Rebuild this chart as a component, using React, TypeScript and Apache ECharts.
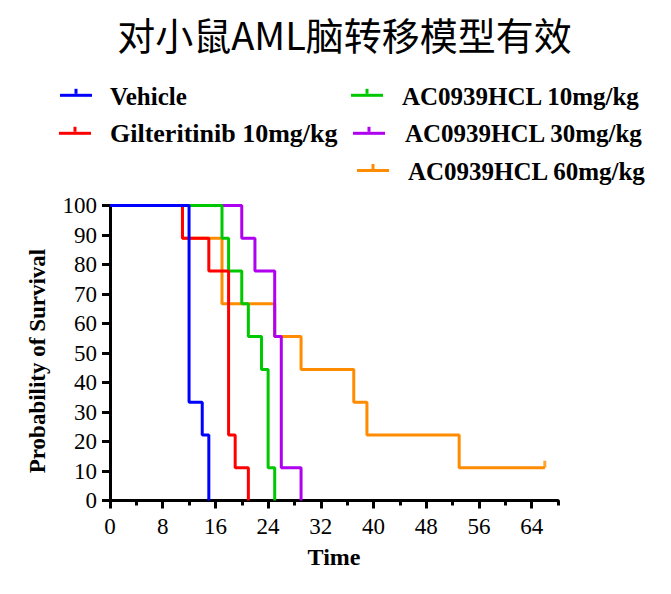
import React, { useEffect, useRef } from "react";
import * as echarts from "echarts";

const titleText = "对小鼠AML脑转移模型有效";
const xAxisTitle = "Time";
const yAxisTitle = "Probability of Survival";

const seriesNames = [
  "Vehicle",
  "Gilteritinib 10mg/kg",
  "AC0939HCL 10mg/kg",
  "AC0939HCL 30mg/kg",
  "AC0939HCL 60mg/kg",
];
const seriesColors = ["#0000FF", "#FF0000", "#00C800", "#B000F0", "#FF8C00"];

// Kaplan-Meier steps: [time, survival % after the event]
const vehicle = [[0, 100], [12, 33.33], [14, 22.22], [15, 0]];
const gilteritinib10 = [[0, 100], [11, 88.89], [15, 77.78], [18, 22.22], [19, 11.11], [21, 0]];
const ac10 = [[0, 100], [17, 88.89], [18, 77.78], [20, 66.67], [21, 55.56], [23, 44.44], [24, 11.11], [25, 0]];
const ac30 = [[0, 100], [20, 88.89], [22, 77.78], [25, 55.56], [26, 11.11], [29, 0]];
const ac60 = [[0, 100], [11, 88.89], [17, 66.67], [25, 55.56], [29, 44.44], [37, 33.33], [39, 22.22], [53, 11.11], [66, 11.11]];
const censoredAc60 = [[66, 11.11]];

const xMin = 0;
const xMax = 68;
const xMinorInterval = 4;
const xLabelTicks = [0, 8, 16, 24, 32, 40, 48, 56, 64];
const yTicks = [0, 10, 20, 30, 40, 50, 60, 70, 80, 90, 100];

const serif = "'Liberation Serif', 'Times New Roman', serif";

export default function App() {
  const ref = useRef<HTMLDivElement>(null);
  useEffect(() => {
    document.body.style.margin = "0";
    if (!ref.current) return;
    const chart = echarts.init(ref.current, undefined, { renderer: "svg" });

    const allData = [vehicle, gilteritinib10, ac10, ac30, ac60];
    // draw order: orange bottom, then purple, green, red, blue on top
    const drawOrder = [4, 3, 2, 1, 0];
    const lineSeries: any[] = drawOrder.map((i) => ({
      type: "line",
      name: seriesNames[i],
      data: allData[i],
      step: "end",
      symbol: "none",
      xAxisIndex: 0,
      lineStyle: { color: seriesColors[i], width: 3 },
      itemStyle: { color: seriesColors[i] },
      z: 3,
    }));
    lineSeries.unshift({
      type: "scatter",
      name: seriesNames[4] + " censored",
      data: censoredAc60,
      symbol: "rect",
      symbolSize: [3, 7],
      symbolOffset: [0, -3.5],
      itemStyle: { color: seriesColors[4] },
      xAxisIndex: 0,
      z: 2,
    });

    const legendPos = [
      { ix: 60, iy: 95.3, tx: 110, ty: 96, fs: 25 },
      { ix: 59, iy: 133.3, tx: 110, ty: 133, fs: 26 },
      { ix: 351, iy: 95.3, tx: 402, ty: 96, fs: 25 },
      { ix: 353, iy: 133.3, tx: 405, ty: 133, fs: 25 },
      { ix: 357, iy: 170.5, tx: 408, ty: 171, fs: 25 },
    ];
    const legendGraphics: any[] = [];
    seriesNames.forEach((name, i) => {
      const p = legendPos[i];
      legendGraphics.push({
        type: "rect",
        shape: { x: p.ix, y: p.iy - 1.5, width: 32, height: 3 },
        style: { fill: seriesColors[i] },
      });
      legendGraphics.push({
        type: "rect",
        shape: { x: p.ix + 14.5, y: p.iy - 6.5, width: 3, height: 5 },
        style: { fill: seriesColors[i] },
      });
      legendGraphics.push({
        type: "text",
        x: p.tx,
        y: p.ty,
        style: {
          text: name,
          fill: "#000",
          font: `bold ${p.fs}px ${serif}`,
          align: "left",
          verticalAlign: "middle",
        },
      });
    });

    chart.setOption({
      animation: false,
      graphic: [
        {
          type: "text",
          x: 344.5,
          y: 33,
          style: {
            text: titleText,
            fill: "#000",
            font: "normal 38px 'Noto Sans CJK SC', sans-serif",
            align: "center",
            verticalAlign: "middle",
          },
        },
        ...legendGraphics,
      ],
      grid: { left: 110, right: 113, top: 205.5, bottom: 93.5, containLabel: false },
      xAxis: [
        {
          type: "value",
          min: xMin,
          max: xMax,
          interval: xMinorInterval,
          position: "bottom",
          axisLine: { show: true, lineStyle: { color: "#000", width: 3 } },
          axisTick: { show: true, length: 5, lineStyle: { color: "#000", width: 3 } },
          axisLabel: { show: false },
          splitLine: { show: false },
        },
        {
          type: "value",
          min: xMin,
          max: xMax,
          position: "bottom",
          axisLine: { show: false },
          axisTick: {
            show: true,
            length: 8,
            customValues: xLabelTicks,
            lineStyle: { color: "#000", width: 3 },
          },
          axisLabel: {
            show: true,
            customValues: xLabelTicks,
            margin: 14,
            color: "#000",
            fontFamily: serif,
            fontSize: 23,
          },
          splitLine: { show: false },
          name: xAxisTitle,
          nameLocation: "middle",
          nameGap: 44,
          nameTextStyle: { color: "#000", fontFamily: serif, fontSize: 24, fontWeight: "bold" },
        },
      ],
      yAxis: {
        type: "value",
        min: 0,
        max: 100,
        interval: 10,
        axisLine: { show: true, lineStyle: { color: "#000", width: 3 } },
        axisTick: { show: true, length: 8, customValues: yTicks, lineStyle: { color: "#000", width: 3 } },
        axisLabel: {
          show: true,
          customValues: yTicks,
          margin: 13,
          color: "#000",
          fontFamily: serif,
          fontSize: 23,
        },
        splitLine: { show: false },
        name: yAxisTitle,
        nameLocation: "middle",
        nameGap: 61,
        nameTextStyle: {
          color: "#000",
          fontFamily: serif,
          fontSize: 23,
          fontWeight: "bold",
          padding: [0, 16, 0, 0],
        },
      },
      series: lineSeries,
    });

    return () => {
      chart.dispose();
    };
  }, []);

  return <div ref={ref} style={{ width: 671, height: 594 }} />;
}
